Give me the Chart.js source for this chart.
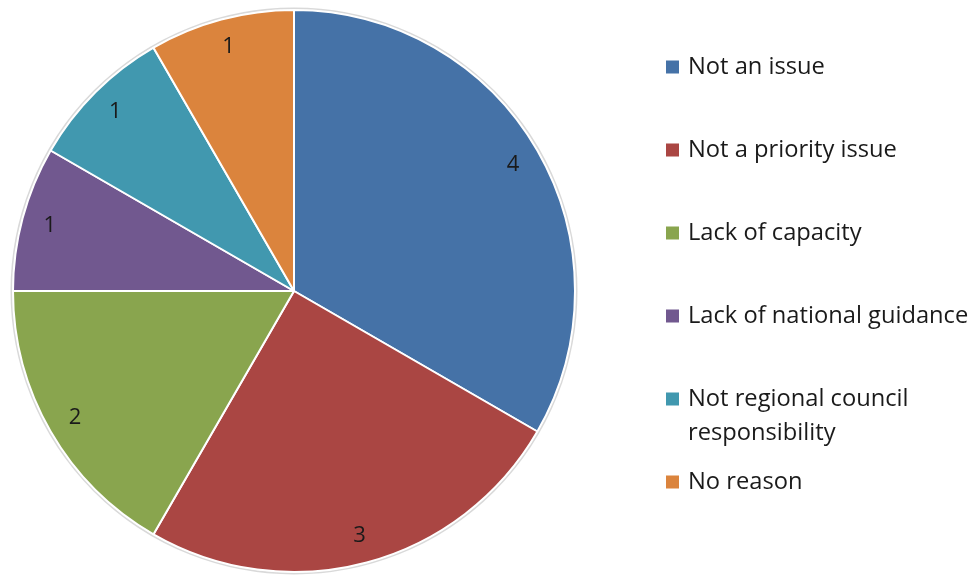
<!DOCTYPE html>
<html>
<head>
<meta charset="utf-8">
<script src="https://cdn.jsdelivr.net/npm/chart.js@4/dist/chart.umd.min.js"></script>
<style>
html,body{margin:0;padding:0;background:#fff;}
#wrap{width:977px;height:577px;position:relative;}
</style>
</head>
<body>
<div id="wrap"><canvas id="c" width="977" height="577"></canvas></div>
<script>
const categories = ["Not an issue", "Not a priority issue", "Lack of capacity", "Lack of national guidance", "Not regional council responsibility", "No reason"];
const legendLines = [["Not an issue"], ["Not a priority issue"], ["Lack of capacity"], ["Lack of national guidance"], ["Not regional council", "responsibility"], ["No reason"]];
const counts = [4, 3, 2, 1, 1, 1];
const colors = ["#4572A7", "#AA4643", "#89A54E", "#71588F", "#4198AF", "#DB843D"];

const FONT = "'Open Sans', sans-serif";

const ringPlugin = {
  id: 'ring',
  beforeDatasetsDraw(chart) {
    const arc = chart.getDatasetMeta(0).data[0];
    if (!arc) return;
    const ctx = chart.ctx;
    ctx.save();
    ctx.beginPath();
    ctx.arc(arc.x, arc.y, arc.outerRadius + 1.5, 0, Math.PI * 2);
    ctx.strokeStyle = 'rgba(170,170,170,0.45)';
    ctx.lineWidth = 2;
    ctx.stroke();
    ctx.restore();
  }
};

const labelPlugin = {
  id: 'sliceLabels',
  afterDatasetsDraw(chart) {
    const ctx = chart.ctx;
    const meta = chart.getDatasetMeta(0);
    ctx.save();
    ctx.font = "22px " + FONT;
    ctx.fillStyle = '#1a1a1a';
    ctx.textAlign = 'center';
    ctx.textBaseline = 'middle';
    meta.data.forEach((arc, i) => {
      const mid = (arc.startAngle + arc.endAngle) / 2;
      const r = arc.outerRadius * 0.9;
      ctx.fillText(String(counts[i]), arc.x + Math.cos(mid) * r, arc.y + Math.sin(mid) * r);
    });
    ctx.restore();
  }
};

const legendPlugin = {
  id: 'sideLegend',
  afterDraw(chart) {
    const ctx = chart.ctx;
    ctx.save();
    ctx.font = "23.7px " + FONT;
    ctx.textAlign = 'left';
    ctx.textBaseline = 'middle';
    const x0 = 666, y0 = 67, step = 83, lh = 34, box = 13;
    legendLines.forEach((lines, i) => {
      const y = y0 + i * step;
      ctx.fillStyle = colors[i];
      ctx.fillRect(x0, y - box / 2, box, box);
      ctx.fillStyle = '#1a1a1a';
      lines.forEach((t, j) => ctx.fillText(t, x0 + 22, y + j * lh));
    });
    ctx.restore();
  }
};

new Chart(document.getElementById('c'), {
  type: 'pie',
  data: {
    labels: categories,
    datasets: [{
      data: counts,
      backgroundColor: colors,
      borderColor: '#ffffff',
      borderWidth: 2
    }]
  },
  options: {
    responsive: false,
    animation: false,
    layout: { padding: { top: 9, bottom: 4, left: 12, right: 401 } },
    plugins: {
      legend: { display: false },
      tooltip: { enabled: false }
    }
  },
  plugins: [ringPlugin, labelPlugin, legendPlugin]
});
</script>
</body>
</html>
